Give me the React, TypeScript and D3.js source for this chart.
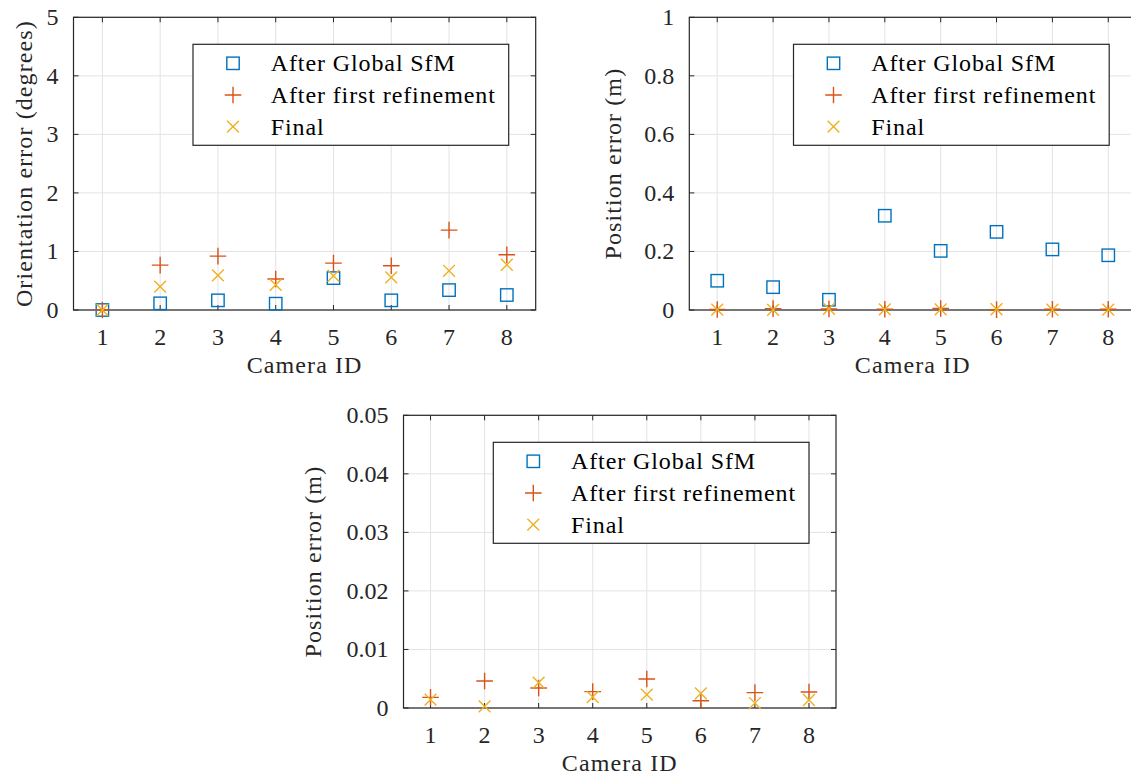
import React from "react";
import * as d3 from "d3";

// ---------- data ----------
const cameraIds = [1, 2, 3, 4, 5, 6, 7, 8];
const seriesNames = ["After Global SfM", "After first refinement", "Final"];

const orientGlobal = [0, 0.114, 0.165, 0.108, 0.545, 0.165, 0.34, 0.256];
const orientFirst = [0, 0.767, 0.92, 0.53, 0.8, 0.756, 1.365, 0.943];
const orientFinal = [0, 0.4, 0.59, 0.43, 0.585, 0.557, 0.67, 0.773];

const posGlobal = [0.1, 0.078, 0.035, 0.322, 0.202, 0.267, 0.207, 0.187];
const posFirst = [0.00182, 0.00462, 0.00342, 0.00279, 0.00496, 0.00125, 0.00262, 0.00274];
const posFinal = [0.00142, 0.00028, 0.00433, 0.00188, 0.00228, 0.00251, 0.00085, 0.00137];

const orientTicks = [0, 1, 2, 3, 4, 5];
const orientTickLabels = ["0", "1", "2", "3", "4", "5"];
const posTicks = [0, 0.2, 0.4, 0.6, 0.8, 1];
const posTickLabels = ["0", "0.2", "0.4", "0.6", "0.8", "1"];
const posZoomTicks = [0, 0.01, 0.02, 0.03, 0.04, 0.05];
const posZoomTickLabels = ["0", "0.01", "0.02", "0.03", "0.04", "0.05"];

const COLORS = ["#0072BD", "#D95319", "#EDB120"];
const FONT = "Liberation Serif";
const AXIS = "#262626";
const GRID = "#e3e3e3";

type PanelProps = {
  x0: number; x1: number; y0: number; y1: number;
  yDomain: [number, number];
  yTicks: number[]; yTickLabels: string[];
  ylabel: string; ylabelOffset: number;
  series: number[][];
};

function Marker({ kind, x, y, color }: { kind: number; x: number; y: number; color: string }) {
  if (kind === 0) {
    const s = 6.2;
    return <rect x={x - s} y={y - s} width={2 * s} height={2 * s} fill="none" stroke={color} strokeWidth={1.4} />;
  }
  if (kind === 1) {
    const s = 8.3;
    return (
      <path d={`M${x - s},${y}H${x + s}M${x},${y - s}V${y + s}`} stroke={color} strokeWidth={1.4} fill="none" />
    );
  }
  const s = 5.9;
  return (
    <path d={`M${x - s},${y - s}L${x + s},${y + s}M${x - s},${y + s}L${x + s},${y - s}`} stroke={color} strokeWidth={1.4} fill="none" />
  );
}

function Panel(p: PanelProps) {
  const x = d3.scaleLinear().domain([0.5, 8.5]).range([p.x0, p.x1]);
  const y = d3.scaleLinear().domain(p.yDomain).range([p.y1, p.y0]);
  const tickLen = 5;
  const legW = 315.7, legH = 101;
  const legRight = p.x1 - 27;
  const legLeft = legRight - legW;
  const legTop = p.y0 + 27;
  const rowY = [19, 50.7, 82.4];
  return (
    <g>
      {cameraIds.map((c) => (
        <line key={"gx" + c} x1={x(c)} x2={x(c)} y1={p.y0} y2={p.y1} stroke={GRID} strokeWidth={1} />
      ))}
      {p.yTicks.map((t) => (
        <line key={"gy" + t} x1={p.x0} x2={p.x1} y1={y(t)} y2={y(t)} stroke={GRID} strokeWidth={1} />
      ))}
      {cameraIds.map((c) => (
        <g key={"tx" + c}>
          <line x1={x(c)} x2={x(c)} y1={p.y1} y2={p.y1 - tickLen} stroke={AXIS} strokeWidth={1} />
          <line x1={x(c)} x2={x(c)} y1={p.y0} y2={p.y0 + tickLen} stroke={AXIS} strokeWidth={1} />
          <text x={x(c)} y={p.y1 + 35} textAnchor="middle" fontFamily={FONT} fontSize={24} fill={AXIS}>
            {c}
          </text>
        </g>
      ))}
      {p.yTicks.map((t, i) => (
        <g key={"ty" + t}>
          <line x1={p.x0} x2={p.x0 + tickLen} y1={y(t)} y2={y(t)} stroke={AXIS} strokeWidth={1} />
          <line x1={p.x1} x2={p.x1 - tickLen} y1={y(t)} y2={y(t)} stroke={AXIS} strokeWidth={1} />
          <text x={p.x0 - 15} y={y(t) + 8} textAnchor="end" fontFamily={FONT} fontSize={24} fill={AXIS}>
            {p.yTickLabels[i]}
          </text>
        </g>
      ))}
      <rect x={p.x0} y={p.y0} width={p.x1 - p.x0} height={p.y1 - p.y0} fill="none" stroke={AXIS} strokeWidth={1.2} />
      <text x={(p.x0 + p.x1) / 2} y={p.y1 + 63} textAnchor="middle" fontFamily={FONT} fontSize={24} letterSpacing={1.1} fill={AXIS}>
        Camera ID
      </text>
      <text
        transform={`translate(${p.x0 - p.ylabelOffset},${(p.y0 + p.y1) / 2}) rotate(-90)`}
        textAnchor="middle"
        fontFamily={FONT}
        fontSize={24}
        letterSpacing={1.1}
        fill={AXIS}
      >
        {p.ylabel}
      </text>
      {p.series.map((vals, si) =>
        vals.map((v, i) =>
          v >= p.yDomain[0] && v <= p.yDomain[1] ? (
            <Marker key={si + "-" + i} kind={si} x={x(cameraIds[i])} y={y(v)} color={COLORS[si]} />
          ) : null
        )
      )}
      <rect x={legLeft} y={legTop} width={legW} height={legH} fill="#fff" stroke={AXIS} strokeWidth={1.2} />
      {seriesNames.map((name, si) => (
        <g key={name}>
          <Marker kind={si} x={legLeft + 40} y={legTop + rowY[si]} color={COLORS[si]} />
          <text x={legLeft + 77.7} y={legTop + rowY[si] + 8} fontFamily={FONT} fontSize={24} letterSpacing={0.9} fill="#000">
            {name}
          </text>
        </g>
      ))}
    </g>
  );
}

export default function App() {
  return (
    <svg
      width={1131}
      height={776}
      style={{ position: "absolute", left: 0, top: 0, background: "#fff" }}
    >
      <rect x={0} y={0} width={1131} height={776} fill="#fff" />
      <Panel
        x0={73.5} x1={535.7} y0={17.3} y1={310}
        yDomain={[0, 5]} yTicks={orientTicks} yTickLabels={orientTickLabels}
        ylabel="Orientation error (degrees)" ylabelOffset={41.5}
        series={[orientGlobal, orientFirst, orientFinal]}
      />
      <Panel
        x0={689.3} x1={1136.2} y0={17.3} y1={310}
        yDomain={[0, 1]} yTicks={posTicks} yTickLabels={posTickLabels}
        ylabel="Position error (m)" ylabelOffset={68}
        series={[posGlobal, posFirst, posFinal]}
      />
      <Panel
        x0={403.5} x1={836} y0={415.3} y1={708}
        yDomain={[0, 0.05]} yTicks={posZoomTicks} yTickLabels={posZoomTickLabels}
        ylabel="Position error (m)" ylabelOffset={82.5}
        series={[posGlobal, posFirst, posFinal]}
      />
    </svg>
  );
}
